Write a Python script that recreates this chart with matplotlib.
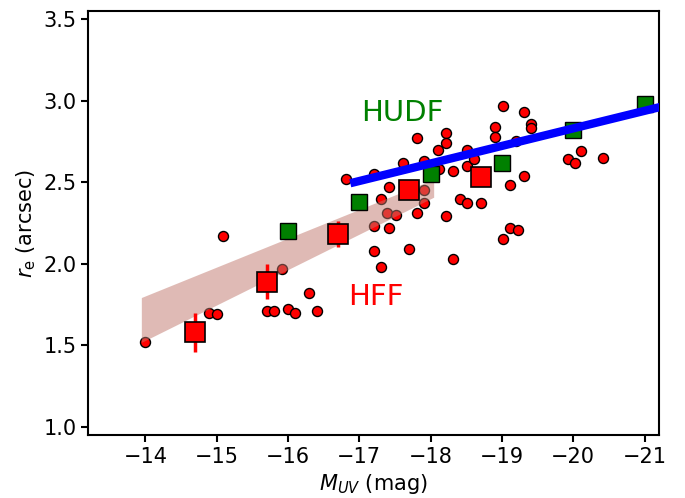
import numpy as np
import matplotlib
matplotlib.use("Agg")
import matplotlib.pyplot as plt

# individual HFF galaxies (M_UV, r_e)
gal_muv = [-15.09, -14.0, -14.89, -15.0, -15.91, -15.7, -15.81, -16.0, -16.1, -16.3,
           -16.41, -16.81, -17.2, -17.3, -17.41, -17.41, -17.21, -17.3, -17.39, -17.51,
           -17.21, -17.7, -17.81, -17.61, -17.91, -17.91, -17.81, -17.91, -18.11, -18.21,
           -18.21, -18.12, -18.21, -18.31, -18.31, -18.41, -18.51, -18.51, -18.51, -18.61,
           -18.71, -18.91, -18.91, -19.01, -19.01, -19.31, -19.41, -19.41, -19.2, -19.31,
           -19.12, -19.12, -19.22, -19.92, -20.02, -20.11, -20.42]
gal_re = [2.17, 1.52, 1.70, 1.69, 1.97, 1.71, 1.71, 1.72, 1.70, 1.82,
          1.71, 2.52, 2.55, 2.40, 2.47, 2.22, 2.08, 1.98, 2.31, 2.30,
          2.23, 2.09, 2.77, 2.62, 2.63, 2.37, 2.31, 2.45, 2.70, 2.80,
          2.74, 2.58, 2.29, 2.57, 2.03, 2.40, 2.37, 2.60, 2.70, 2.64,
          2.37, 2.84, 2.78, 2.97, 2.15, 2.93, 2.86, 2.83, 2.75, 2.54,
          2.48, 2.22, 2.21, 2.64, 2.62, 2.69, 2.65]

# HFF binned medians
hff_muv = [-14.7, -15.7, -16.7, -17.7, -18.7]
hff_re = [1.58, 1.89, 2.18, 2.45, 2.53]
hff_err = [0.12, 0.107, 0.08, 0.05, 0.05]

# HUDF binned
hudf_muv = [-16, -17, -18, -19, -20, -21]
hudf_re = [2.20, 2.38, 2.55, 2.62, 2.82, 2.98]

# HUDF relation
line_muv = [-16.93, -21.3]
line_re = [2.50, 2.97]

# HFF fit band
band_muv = [-13.95, -18.05]
band_lo = [1.515, 2.405]
band_hi = [1.79, 2.515]

fig = plt.figure(figsize=(6.85, 4.98), dpi=100)
ax = fig.add_axes([0.129, 0.1265, 0.8327, 0.8514])

ax.scatter(gal_muv, gal_re, s=52, c="red", edgecolors="black", linewidths=1.0, zorder=1)
ax.fill_between(band_muv, band_lo, band_hi, facecolor="#c0776c", alpha=0.5, lw=0, zorder=2)
ax.errorbar(hff_muv, hff_re, yerr=hff_err, fmt="s", ms=15, mfc="red", mec="black",
            mew=1.2, ecolor="red", elinewidth=2.5, capsize=0, zorder=3)
ax.plot(hudf_muv, hudf_re, "s", ms=11.5, mfc="green", mec="black", mew=1.0, zorder=4)
ax.plot(line_muv, line_re, "-", color="blue", lw=6, zorder=5)

ax.text(-17.03, 2.877, "HUDF", color="green", fontsize=21)
ax.text(-16.84, 1.746, "HFF", color="red", fontsize=21)

ax.set_xlim(-13.2, -21.2)
ax.set_ylim(0.95, 3.55)
ax.set_xticks(np.arange(-14, -22, -1))
ax.set_yticks(np.arange(1.0, 3.6, 0.5))
ax.set_yticklabels(["%.1f" % v for v in np.arange(1.0, 3.6, 0.5)])
ax.tick_params(labelsize=15, width=1.5, length=5)
for s in ax.spines.values():
    s.set_linewidth(1.5)

ax.set_xlabel(r"$M_{UV}$ (mag)", fontsize=15, labelpad=4)
ax.set_ylabel(r"$r_{\rm e}$ (arcsec)", fontsize=15, labelpad=4)

fig.savefig("out.png", dpi=100)
